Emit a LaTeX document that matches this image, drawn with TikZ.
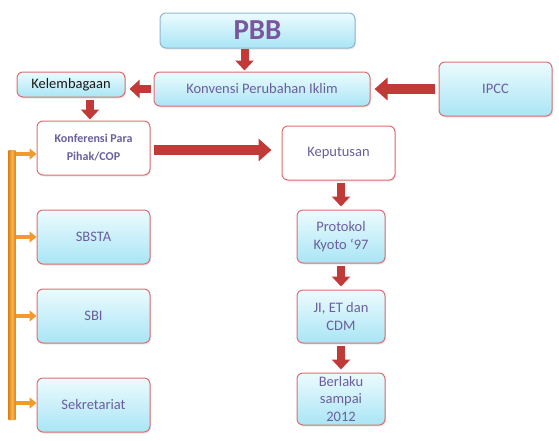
\documentclass[tikz,border=0pt]{standalone}
\usepackage{fontspec}
\setmainfont{Carlito}
\usetikzlibrary{arrows.meta,shadows}
\definecolor{boxred}{HTML}{DC6E70}
\definecolor{boxblue}{HTML}{8FB6CF}
\definecolor{celltop}{HTML}{ECFBFE}
\definecolor{cellbot}{HTML}{A9E5F5}
\definecolor{txtpurple}{HTML}{6A5F9C}
\definecolor{pbbpurple}{HTML}{7A569E}
\definecolor{arrred}{HTML}{C23A38}
\definecolor{arrorange}{HTML}{F29A2E}
\definecolor{bardark}{HTML}{E07A12}
\definecolor{barlight}{HTML}{F9B54E}
\begin{document}
\begin{tikzpicture}[x=1pt,y=-1pt,
  base/.style={rectangle, rounded corners=6pt, line width=1pt, align=center,
    text=txtpurple, font=\fontsize{14.5}{18.5}\selectfont, inner sep=1pt,
    drop shadow={opacity=0.18, shadow xshift=1pt, shadow yshift=-1.5pt}},
  cbox/.style={base, draw=boxred, top color=celltop, bottom color=cellbot},
  wbox/.style={base, draw=boxred, fill=white},
  bbox/.style={base, draw=boxblue, top color=celltop, bottom color=cellbot},
  bigred/.style={draw=arrred, line width=10pt, -{Triangle[width=22pt,length=13pt]}},
  smallred/.style={draw=arrred, line width=8pt, -{Triangle[width=18pt,length=10pt]}},
  orarrow/.style={draw=arrorange, line width=4.5pt, -{Triangle[width=11pt,length=7pt]}}
]
\useasboundingbox (0,0) rectangle (559,440);

% boxes
\node[bbox, minimum width=195pt, minimum height=35pt,
  font=\fontsize{29}{29}\selectfont\bfseries, text=pbbpurple] (pbb) at (257.5,30.5) {PBB};
\node[cbox, minimum width=216pt, minimum height=34pt] (konv) at (262,89) {Konvensi Perubahan Iklim};
\node[cbox, minimum width=113pt, minimum height=54pt] (ipcc) at (495.5,89) {IPCC};
\node[cbox, minimum width=108pt, minimum height=25pt, text=black!90] (kel) at (71,84.5) {Kelembagaan};
\node[wbox, minimum width=113pt, minimum height=54pt,
  font=\fontsize{12}{18}\selectfont\bfseries] (cop) at (93.5,148) {Konferensi Para\\Pihak/COP};
\node[wbox, minimum width=113pt, minimum height=54pt] (kep) at (338.5,153) {Keputusan};
\node[cbox, minimum width=88pt, minimum height=53pt] (kyoto) at (341,236.5) {Protokol\\Kyoto ‘97};
\node[cbox, minimum width=88pt, minimum height=53pt] (ji) at (341,316.5) {JI, ET dan\\CDM};
\node[cbox, minimum width=88pt, minimum height=52pt, inner sep=0pt,
  font=\fontsize{14.5}{17.5}\selectfont] (berl) at (341,399) {Berlaku\\sampai\\2012};
\node[cbox, minimum width=113pt, minimum height=54pt] (sbsta) at (93.5,237) {SBSTA};
\node[cbox, minimum width=113pt, minimum height=54pt] (sbi) at (93.5,316) {SBI};
\node[cbox, minimum width=113pt, minimum height=54pt] (sekr) at (93.5,405) {Sekretariat};

% orange bar
\node[rectangle, rounded corners=1pt, minimum width=8pt, minimum height=270pt, inner sep=0pt,
  left color=bardark, right color=bardark, middle color=barlight] (bar) at (12,285) {};

% red arrows
\draw[smallred] ([xshift=-13pt]pbb.south) -- ([xshift=-17.5pt,yshift=1pt]konv.north);
\draw[smallred] ([xshift=-3pt]konv.west) -- ([xshift=4pt]kel.east |- konv.west);
\draw[bigred] ([xshift=-4pt]ipcc.west) -- ([xshift=4pt]konv.east);
\draw[smallred] ([xshift=19pt,yshift=-2pt]kel.south) -- ([xshift=-3.5pt,yshift=1pt]cop.north);
\draw[bigred] ([xshift=3pt]cop.east |- 0,150) -- ([xshift=-10pt]kep.west |- 0,150);
\draw[smallred] ([xshift=2.5pt,yshift=-2pt]kep.south) -- ([yshift=3pt]kyoto.north);
\draw[smallred] ([yshift=-2pt]kyoto.south) -- ([yshift=3pt]ji.north);
\draw[smallred] ([yshift=-2pt]ji.south) -- ([yshift=3pt]berl.north);

% orange arrows
\draw[orarrow] (bar.east |- 0,154) -- ([yshift=-6pt]cop.west);
\draw[orarrow] (bar.east |- sbsta.west) -- (sbsta.west);
\draw[orarrow] (bar.east |- sbi.west) -- (sbi.west);
\draw[orarrow] (bar.east |- 0,403) -- ([yshift=2pt]sekr.west);
\end{tikzpicture}
\end{document}
